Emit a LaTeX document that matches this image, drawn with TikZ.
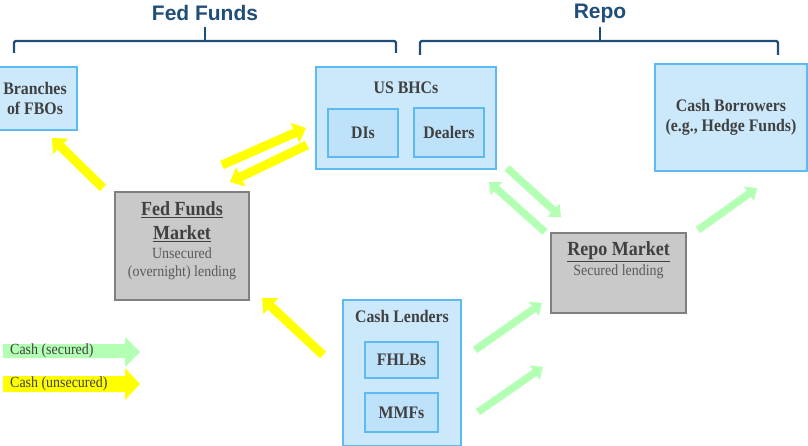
\documentclass[tikz,border=0pt]{standalone}
\usepackage{fontspec}
\setmainfont[FakeStretch=0.9]{Liberation Serif}
\setsansfont{Liberation Sans}
\usetikzlibrary{arrows.meta}

\definecolor{headblue}{RGB}{31,78,121}
\definecolor{boxfill}{RGB}{204,233,252}
\definecolor{innerfill}{RGB}{190,226,250}
\definecolor{boxline}{RGB}{94,186,242}
\definecolor{mktfill}{RGB}{201,201,201}
\definecolor{mktline}{RGB}{128,128,128}
\definecolor{securedgreen}{RGB}{179,255,179}
\definecolor{unsecyellow}{RGB}{255,255,0}
\definecolor{labelgray}{RGB}{64,64,64}
\definecolor{smallgray}{RGB}{89,89,89}

\tikzset{
  party/.style={draw=boxline, fill=boxfill, line width=1.3pt, inner sep=0pt},
  member/.style={draw=boxline, fill=innerfill, line width=1.3pt, inner sep=0pt},
  market/.style={draw=mktline, fill=mktfill, line width=1.3pt, inner sep=0pt},
  boxlabel/.style={font=\fontsize{17.6}{20.5}\selectfont\bfseries, text=labelgray, align=center},
  mkttitle/.style={font=\fontsize{20}{24}\selectfont\bfseries, text=labelgray, align=center},
  mktnote/.style={font=\fontsize{15.5}{18}\selectfont, text=smallgray, align=center},
  headline/.style={font=\sffamily\bfseries\fontsize{21}{25}\selectfont, text=headblue},
  bracket/.style={draw=headblue, line width=2.4pt, rounded corners=1.5pt},
  cashunsec/.style={draw=unsecyellow, line width=9pt, -{Triangle[length=12pt,width=21pt]}},
  cashsec/.style={draw=securedgreen, line width=7.5pt, -{Triangle[length=10pt,width=17pt]}},
}

\begin{document}
\begin{tikzpicture}[x=1pt, y=-1pt]
  \useasboundingbox (0,0) rectangle (808,446);

  % headings with their brackets
  \node[headline] (fedfunds) at (205,13) {Fed Funds};
  \node[headline] (repo) at (600,13) {Repo};
  \draw[bracket] (14,53) -- (14,41) -- (396,41) -- (396,53);
  \draw[bracket] (205,41) -- (205,27);
  \draw[bracket] (420,55) -- (420,41) -- (778,41) -- (778,55);
  \draw[bracket] (600,41) -- (600,27);

  % participants
  \node[party, minimum width=84pt, minimum height=63pt, boxlabel] (fbo) at (35,98.5) {Branches\\of FBOs};
  \node[party, minimum width=180pt, minimum height=102pt] (bhc) at (406,118) {};
  \node[boxlabel] (bhclabel) at (406,88) {US BHCs};
  \node[member, minimum width=70pt, minimum height=48pt, boxlabel] (di) at (363,133) {DIs};
  \node[member, minimum width=70pt, minimum height=49pt, boxlabel] (dealer) at (449,132.5) {Dealers};
  \node[party, minimum width=152pt, minimum height=107pt, boxlabel] (borrower) at (731,117.5) {Cash Borrowers\\(e.g., Hedge Funds)};

  \node[party, minimum width=118pt, minimum height=146pt] (lender) at (402,373) {};
  \node[boxlabel] (lenderlabel) at (402,316) {Cash Lenders};
  \node[member, minimum width=73pt, minimum height=36pt, boxlabel] (fhlb) at (401.5,360) {FHLBs};
  \node[member, minimum width=73pt, minimum height=39pt, boxlabel] (mmf) at (401.5,412.5) {MMFs};

  % markets
  \node[market, minimum width=134pt, minimum height=108pt] (ffmkt) at (182,246) {};
  \node[mkttitle] (fftitle) at (182,222) {\underline{Fed Funds}\\\underline{Market}};
  \node[mktnote] (ffnote) at (182,264) {Unsecured\\(overnight) lending};
  \node[market, minimum width=135pt, minimum height=80pt] (repomkt) at (618.5,273) {};
  \node[mkttitle] (repotitle) at (618.5,252) {\underline{Repo Market}};
  \node[mktnote] (reponote) at (618.5,272) {Secured lending};

  % arrow ends
  \coordinate (ff2fboA) at (103,188);  \coordinate (ff2fboB) at (52,138);
  \coordinate (ff2bhcA) at (222,165);  \coordinate (ff2bhcB) at (306,128);
  \coordinate (bhc2ffA) at (307,145);  \coordinate (bhc2ffB) at (230,182);
  \coordinate (cl2ffA) at (323,355);   \coordinate (cl2ffB) at (262,298);
  \coordinate (bhc2rpA) at (507,168);  \coordinate (bhc2rpB) at (561,217);
  \coordinate (rp2bhcA) at (545,232);  \coordinate (rp2bhcB) at (489,182);
  \coordinate (rp2cbA) at (698,230);   \coordinate (rp2cbB) at (757,188);
  \coordinate (fhlb2rpA) at (475,350); \coordinate (fhlb2rpB) at (542,303);
  \coordinate (mmf2rpA) at (478,412);  \coordinate (mmf2rpB) at (543,367);

  % cash flows
  \foreach \a in {ff2fbo, ff2bhc, bhc2ff, cl2ff}
    \draw[cashunsec] (\a A) -- (\a B);
  \foreach \a in {bhc2rp, rp2bhc, rp2cb, fhlb2rp, mmf2rp}
    \draw[cashsec] (\a A) -- (\a B);

  % legend
  \fill[securedgreen] (3,344) -- (125,344) -- (125,337) -- (140,352) -- (125,367) -- (125,358) -- (3,358) -- cycle;
  \fill[unsecyellow] (3,376) -- (125,376) -- (125,368) -- (140,384) -- (125,400) -- (125,392) -- (3,392) -- cycle;
  \node[mktnote, anchor=west, text=labelgray, inner sep=0pt] (keysec) at (10,351) {Cash (secured)};
  \node[mktnote, anchor=west, text=labelgray, inner sep=0pt] (keyunsec) at (10,384) {Cash (unsecured)};
\end{tikzpicture}
\end{document}
